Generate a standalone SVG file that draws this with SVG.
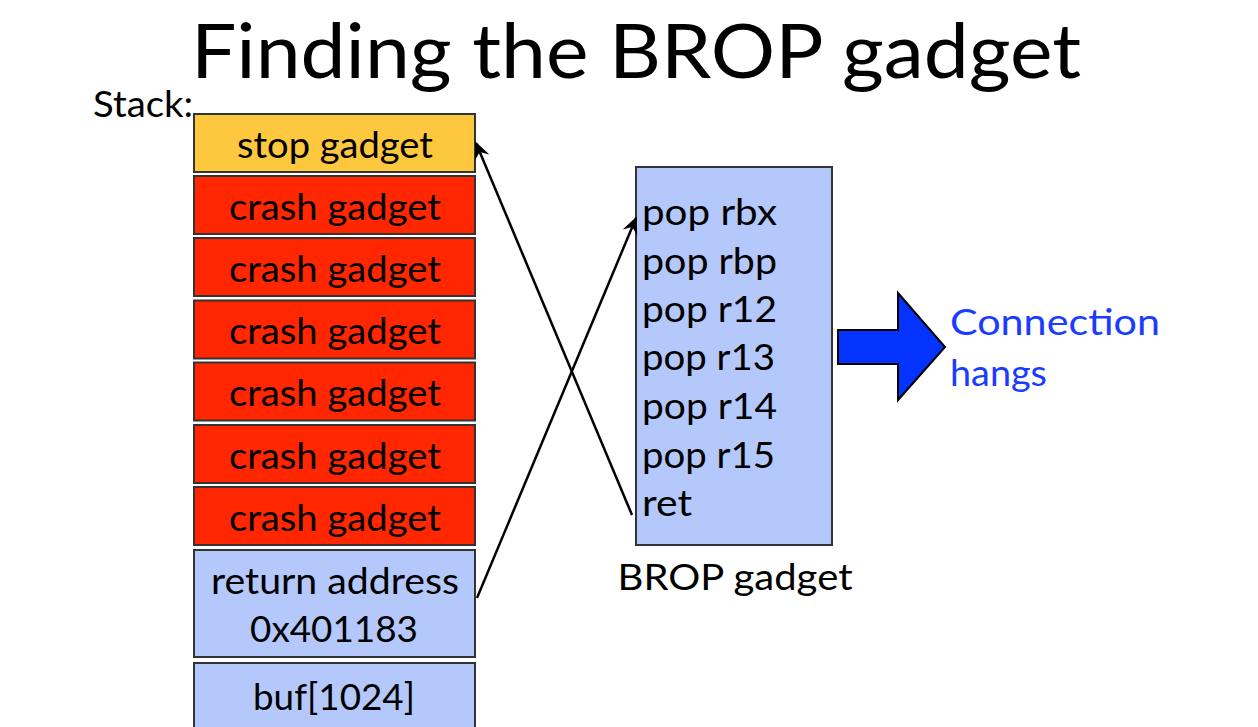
<svg xmlns="http://www.w3.org/2000/svg" width="1258" height="727" viewBox="0 0 1258 727">
<style>
text{font-family:Lato,"Open Sans","Liberation Sans",sans-serif;fill:#000}
.box{stroke:#333;stroke-width:2}
.stop{fill:#fdc73e}
.crash{fill:#ff2600}
.blue{fill:#b4c8fb}
.lbl{font-size:36px;text-anchor:middle}
.code{font-size:36px}
.conn{stroke:#000;stroke-width:2.5;fill:none}
</style>
<defs>
<marker id="ah" viewBox="0 0 10 10" refX="9" refY="5" markerWidth="7" markerHeight="7" orient="auto" markerUnits="strokeWidth">
<path d="M0,0.5 L10,5 L0,9.5 L3.5,5 z" fill="#000"/>
</marker>
</defs>
<rect width="1258" height="727" fill="#fff"/>
<text id="title" x="636" y="78" font-size="76" text-anchor="middle" textLength="890" lengthAdjust="spacingAndGlyphs">Finding the BROP gadget</text>
<text id="stacklabel" x="93" y="117" font-size="37" textLength="100" lengthAdjust="spacingAndGlyphs">Stack:</text>
<g id="stop"><rect class="box stop" x="194" y="114" width="281" height="58"/><text class="lbl" x="335" y="158" textLength="196" lengthAdjust="spacingAndGlyphs">stop gadget</text></g>
<g id="crash1"><rect class="box crash" x="194" y="176" width="281" height="58"/><text class="lbl" x="335" y="220" textLength="212" lengthAdjust="spacingAndGlyphs">crash gadget</text></g>
<g id="crash2"><rect class="box crash" x="194" y="238" width="281" height="58"/><text class="lbl" x="335" y="282" textLength="212" lengthAdjust="spacingAndGlyphs">crash gadget</text></g>
<g id="crash3"><rect class="box crash" x="194" y="300.5" width="281" height="58"/><text class="lbl" x="335" y="344" textLength="212" lengthAdjust="spacingAndGlyphs">crash gadget</text></g>
<g id="crash4"><rect class="box crash" x="194" y="362.5" width="281" height="58"/><text class="lbl" x="335" y="406" textLength="212" lengthAdjust="spacingAndGlyphs">crash gadget</text></g>
<g id="crash5"><rect class="box crash" x="194" y="425" width="281" height="58"/><text class="lbl" x="335" y="469" textLength="212" lengthAdjust="spacingAndGlyphs">crash gadget</text></g>
<g id="crash6"><rect class="box crash" x="194" y="487" width="281" height="58"/><text class="lbl" x="335" y="531" textLength="212" lengthAdjust="spacingAndGlyphs">crash gadget</text></g>
<g id="retaddr"><rect class="box blue" x="194" y="550" width="281" height="107"/><text class="lbl" x="335" y="594" textLength="248" lengthAdjust="spacingAndGlyphs">return address</text><text class="lbl" x="334" y="642" textLength="168" lengthAdjust="spacingAndGlyphs">0x401183</text></g>
<g id="buf"><rect class="box blue" x="194" y="663" width="281" height="80"/><text class="lbl" x="334" y="710" textLength="162" lengthAdjust="spacingAndGlyphs">buf[1024]</text></g>
<g id="brop">
<rect class="box blue" x="636" y="167" width="196" height="378"/>
<text class="code" x="642" y="225" textLength="135" lengthAdjust="spacingAndGlyphs">pop rbx</text>
<text class="code" x="642" y="274" textLength="135" lengthAdjust="spacingAndGlyphs">pop rbp</text>
<text class="code" x="642" y="322" textLength="135" lengthAdjust="spacingAndGlyphs">pop r12</text>
<text class="code" x="642" y="370" textLength="133" lengthAdjust="spacingAndGlyphs">pop r13</text>
<text class="code" x="642" y="419" textLength="135" lengthAdjust="spacingAndGlyphs">pop r14</text>
<text class="code" x="642" y="468" textLength="133" lengthAdjust="spacingAndGlyphs">pop r15</text>
<text class="code" x="642" y="516" textLength="50" lengthAdjust="spacingAndGlyphs">ret</text>
<text class="lbl" x="735" y="590" textLength="235" lengthAdjust="spacingAndGlyphs">BROP gadget</text>
</g>
<g id="connectors">
<line class="conn" x1="632" y1="515" x2="476" y2="143" marker-end="url(#ah)"/>
<line class="conn" x1="477" y1="598" x2="636" y2="218" marker-end="url(#ah)"/>
</g>
<g id="bigarrow">
<polygon points="838,330 898,330 898,293 945,347 898,400 898,364 838,364" fill="#0433ff" stroke="#000" stroke-width="2"/>
</g>
<g id="hangs">
<text x="950" y="335" font-size="37" style="fill:#1a3cff" textLength="210" lengthAdjust="spacingAndGlyphs">Connection</text>
<text x="950" y="386" font-size="37" style="fill:#1a3cff" textLength="97" lengthAdjust="spacingAndGlyphs">hangs</text>
</g>
</svg>
